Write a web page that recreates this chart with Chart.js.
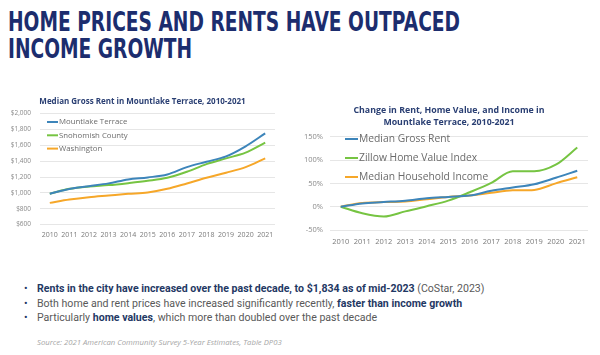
<!DOCTYPE html>
<html><head><meta charset="utf-8">
<script src="https://cdn.jsdelivr.net/npm/chart.js@4.4.1/dist/chart.umd.min.js"></script>
<style>
html,body{margin:0;padding:0;background:#fff;width:600px;height:355px;overflow:hidden;position:relative}
#title{position:absolute;left:8px;top:9px;font-family:"DejaVu Sans",Verdana,sans-serif;font-weight:bold;font-size:26px;line-height:27px;color:#1c2d6e;white-space:nowrap;transform-origin:0 0}
.cv{position:absolute}
#bul{position:absolute;left:24px;top:282px;font-family:Roboto,"Open Sans",sans-serif;font-size:12px;line-height:14.5px;color:#595959;white-space:nowrap}
#bul .b{color:#1f3864;font-weight:bold}
#bul div{position:relative;padding-left:13px}
#bul div:before{content:"•";position:absolute;left:0;top:0;color:#1f3864}
#src{position:absolute;left:37px;top:337px;font-family:"Open Sans","Noto Sans",sans-serif;font-style:italic;font-size:8px;color:#a6a6a6;white-space:nowrap}
</style></head><body>
<div id="title"><span id="t1">HOME PRICES AND RENTS HAVE OUTPACED</span><br>INCOME GROWTH</div>
<div class="cv" style="left:10px;top:88px;width:270px;height:157px"><canvas id="c1"></canvas></div>
<div class="cv" style="left:300px;top:95px;width:298px;height:158px"><canvas id="c2"></canvas></div>
<div id="bul">
<div><span id="l1"><span class="b">Rents in the city have increased over the past decade, to $1,834 as of mid-2023</span> (CoStar, 2023)</span></div>
<div>Both home and rent prices have increased significantly recently, <span class="b">faster than income growth</span></div>
<div>Particularly <span class="b">home values</span>, which more than doubled over the past decade</div>
</div>
<div id="src">Source: 2021 American Community Survey 5-Year Estimates, Table DP03</div>
<script>
const years = ['2010','2011','2012','2013','2014','2015','2016','2017','2018','2019','2020','2021'];
// Left chart: median gross rent ($)
const rentMountlake = [990,1050,1085,1120,1170,1195,1232,1325,1393,1460,1587,1751];
const rentSnohomish = [990,1051,1081,1098,1123,1152,1190,1266,1363,1435,1507,1633];
const rentWashington = [874,916,946,967,988,1005,1051,1119,1190,1254,1325,1435];
// Right chart: % change since 2010
const chgRent = [0,7,10,13,18,21,24,34,41,48,62,77];
const chgZillow = [0,-14,-21,-10,1,13,31,51,76,76,90,127];
const chgIncome = [0,8,10,11,16,21,24,30,35,36,50,63];

// fit text widths to the reference
(function(){
  const t=document.getElementById('title'), t1=document.getElementById('t1');
  const w=t1.getBoundingClientRect().width; t.style.transform='scaleX('+(452/w)+')';
  const b=document.getElementById('bul'), l1=document.getElementById('l1');
  const w2=l1.getBoundingClientRect().width; b.style.fontSize=(12*448/w2)+'px';
  const s=document.getElementById('src'); const w3=s.getBoundingClientRect().width; s.style.fontSize=(8*245/w3)+'px';
})();

const BLUE='#3d85ba', GREEN='#76c442', ORANGE='#f6a729';
const FONT='"Open Sans","Noto Sans",sans-serif';

const innerLegend = {
  id:'innerLegend',
  afterDatasetsDraw(chart, args, opts){
    const ctx=chart.ctx;
    ctx.save();
    ctx.font = opts.fontSize+'px '+FONT;
    ctx.fillStyle='#6b6b6b';
    ctx.textBaseline='middle';
    chart.data.datasets.forEach((ds,i)=>{
      const y = opts.y + i*opts.gap;
      ctx.strokeStyle=ds.borderColor; ctx.lineWidth=2;
      ctx.beginPath(); ctx.moveTo(opts.x,y); ctx.lineTo(opts.x+opts.len,y); ctx.stroke();
      ctx.fillText(ds.label, opts.x+opts.len+1, y);
    });
    ctx.restore();
  }
};

function ds(label,data,color){return {label,data,borderColor:color,backgroundColor:color,borderWidth:2,pointRadius:0,tension:0.35,cubicInterpolationMode:'monotone',fill:false};}

new Chart(document.getElementById('c1'),{
  type:'line',
  data:{labels:years,datasets:[ds('Mountlake Terrace',rentMountlake,BLUE),ds('Snohomish County',rentSnohomish,GREEN),ds('Washington',rentWashington,ORANGE)]},
  plugins:[innerLegend],
  options:{
    responsive:true,maintainAspectRatio:false,animation:false,
    layout:{padding:{left:0,right:5,top:0,bottom:0}},
    plugins:{
      legend:{display:false},tooltip:{enabled:false},
      title:{display:true,text:'Median Gross Rent in Mountlake Terrace, 2010-2021',color:'#2a3f73',font:{family:FONT,size:8,weight:'bold'},padding:{top:9,bottom:7}},
      innerLegend:{x:37,y:34,gap:13.3,len:11,fontSize:7.8}
    },
    scales:{
      x:{offset:true,grid:{display:false,drawTicks:false},border:{display:false},ticks:{color:'#7a7a7a',font:{family:FONT,size:7},padding:6,maxRotation:0,autoSkip:false}},
      y:{min:600,max:2000,grid:{color:'#e6e6e6',drawTicks:false},border:{display:false},afterFit:s=>{s.width=30},
         ticks:{stepSize:200,color:'#8a8a8a',padding:9,font:{family:FONT,size:6.5},callback:v=>'$'+v.toLocaleString('en-US')}}
    }
  }
});

new Chart(document.getElementById('c2'),{
  type:'line',
  data:{labels:years,datasets:[ds('Median Gross Rent',chgRent,BLUE),ds('Zillow Home Value Index',chgZillow,GREEN),ds('Median Household Income',chgIncome,ORANGE)]},
  plugins:[innerLegend],
  options:{
    responsive:true,maintainAspectRatio:false,animation:false,
    layout:{padding:{left:0,right:0,top:0,bottom:0}},
    plugins:{
      legend:{display:false},tooltip:{enabled:false},
      title:{display:true,text:['Change in Rent, Home Value, and Income in','Mountlake Terrace, 2010-2021'],color:'#2a3f73',font:{family:FONT,size:8.8,weight:'bold',lineHeight:1.35},padding:{top:10,bottom:8}},
      innerLegend:{x:45,y:44,gap:19,len:13,fontSize:10.3}
    },
    scales:{
      x:{offset:true,grid:{display:false,drawTicks:false},border:{display:false},ticks:{color:'#7a7a7a',font:{family:FONT,size:7.5},padding:7,maxRotation:0,autoSkip:false}},
      y:{min:-50,max:150,grid:{color:'#e6e6e6',drawTicks:false},border:{display:false},afterFit:s=>{s.width=30},
         ticks:{stepSize:50,color:'#8a8a8a',padding:7,font:{family:FONT,size:7.5},callback:v=>v+'%'}},
      pad:{position:'right',display:true,afterFit:s=>{s.width=10},grid:{display:false,drawTicks:false},border:{display:false},ticks:{display:false}}
    }
  }
});
</script>
</body></html>
